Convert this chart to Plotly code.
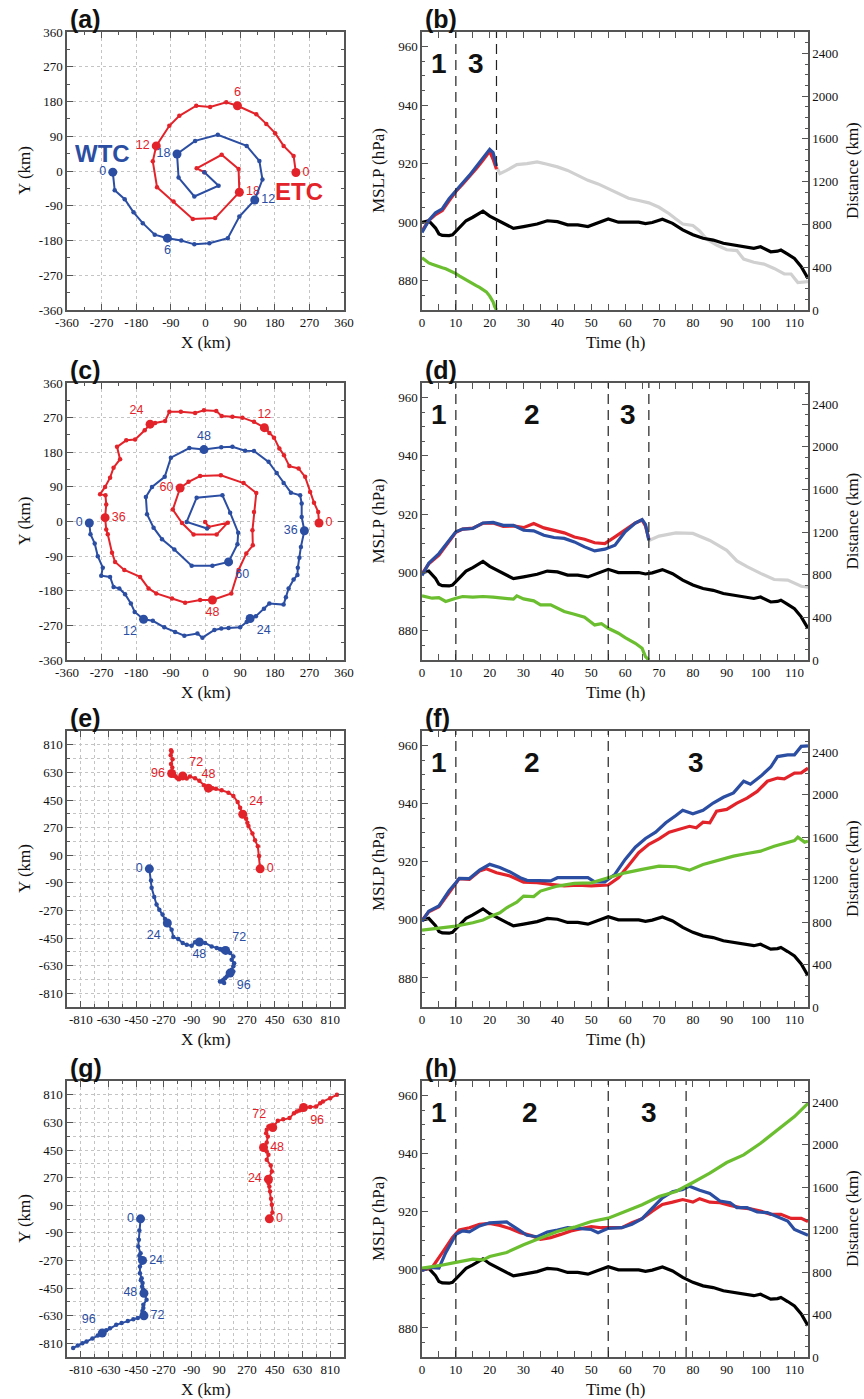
import plotly.graph_objects as go

W, H = 864, 1399
RED = "#E3232A"
BLUE = "#2B4EA2"
GREEN = "#6BBE2F"
GRAY = "#D0D0D0"
AXC = "#555555"
SERIF = "Liberation Serif, Times New Roman, serif"
SANS = "Liberation Sans, Arial, sans-serif"

# ---------------- control (single TC) MSLP, same in all panels ----------------
T_BLACK = [0, 2, 4, 5, 6, 8, 9, 10, 12, 13, 15, 18, 20, 23, 25, 27, 30, 34, 37, 40, 43, 46, 49, 52,
           55, 58, 61, 64, 66, 68, 71, 74, 77, 80, 83, 86, 89, 92, 95, 98, 100, 103, 105, 106, 108,
           110, 112, 114]
P_BLACK = [899.9, 900.5, 898.0, 896.0, 895.5, 895.4, 895.7, 897.0, 899.3, 900.5, 901.7, 903.8, 902.1,
           900.3, 899.3, 897.9, 898.5, 899.4, 900.5, 900.2, 899.1, 899.1, 898.5, 899.9, 901.1, 900.0,
           899.9, 900.0, 899.5, 899.9, 901.0, 899.6, 897.4, 895.7, 894.5, 893.9, 892.8, 892.2, 891.6,
           891.1, 891.6, 889.9, 890.1, 890.5, 889.1, 887.6, 884.8, 880.8]

# ---------------- (a) tracks ----------------
HRS_A = list(range(0, 23))
XA_WTC = [-241, -236, -210, -187, -163, -132, -99, -63, -29, 10, 58, 88, 128, 148, 140, 107, 32, -27,
          -74, -70, -29, 34, -3]
YA_WTC = [-3, -50, -73, -107, -135, -165, -174, -180, -190, -187, -174, -118, -75, -22, 26, 65, 94, 78,
          44, -17, -66, -38, -3]
XA_ETC = [235, 229, 203, 181, 158, 132, 83, 54, 12, -24, -68, -94, -128, -137, -126, -83, -33, 25, 88,
          86, 42, -23, -3]
YA_ETC = [-4, 39, 65, 98, 122, 147, 169, 178, 166, 169, 143, 117, 65, 25, -42, -79, -124, -122, -55, 5,
          42, 7, -3]
LBL_A = [0, 6, 12, 18]

# ---------------- (b) ----------------
T_B_BLUE = [0, 2, 4, 6, 8, 10, 12, 14, 16, 18, 19, 20, 21, 22]
P_B_BLUE = [896.5, 900.6, 903.2, 904.6, 908.0, 910.9, 913.4, 916.0, 918.9, 921.7, 923.4, 924.9, 923.8, 919.2]
T_B_RED = [0, 2, 4, 6, 8, 10, 12, 14, 16, 18, 19, 20, 21, 22]
P_B_RED = [897.0, 900.6, 902.6, 904.0, 907.3, 910.5, 913.0, 915.5, 918.3, 921.2, 922.6, 924.2, 921.5, 918.1]
T_B_GRAY = [22, 23, 25, 28, 31, 34, 37, 40, 43, 46, 49, 52, 55, 58, 61, 64, 67, 70, 73, 75, 77, 80, 82,
            84, 87, 90, 93, 95, 98, 101, 104, 107, 109, 111, 114]
P_B_GRAY = [918.9, 916.6, 917.7, 919.7, 920.0, 920.6, 919.8, 918.9, 917.7, 916.0, 914.3, 913.1, 911.4,
            909.7, 908.2, 907.4, 906.6, 905.1, 902.9, 901.1, 899.4, 898.9, 897.0, 894.3, 892.2, 890.6,
            890.3, 887.4, 886.3, 885.7, 884.2, 882.3, 882.3, 879.4, 879.7]
T_B_GREEN = [0, 1, 2, 3, 4, 5, 6, 7, 8, 9, 10, 11, 12, 13, 14, 15, 16, 17, 18, 19, 20, 21, 21.5, 22]
D_B_GREEN = [488, 462, 440, 428, 415, 405, 395, 385, 372, 358, 340, 320, 300, 282, 262, 245, 228, 212,
             192, 170, 130, 75, 30, 0]
VL_B = [10, 22]
PH_B = [(5, "1"), (16, "3")]

# ---------------- (c) tracks ----------------
HRS_C = list(range(0, 68))
XC_WTC = [-302, -299, -288, -280, -267, -271, -248, -239, -224, -209, -194, -184,
          -161, -137, -107, -79, -55, -21, -8, 23, 41, 60, 90, 107,
          116, 131, 152, 166, 203, 209, 216, 229, 239, 240, 244, 248,
          257, 250, 250, 246, 222, 203, 185, 164, 126, 103, 70, 41,
          -4, -42, -90, -106, -139, -155, -152, -135, -113, -81, -36, 18,
          60, 83, 85, 64, 44, -23, -49, 4]
YC_WTC = [-4, -33, -57, -90, -120, -141, -144, -170, -174, -189, -213, -235,
          -254, -258, -275, -287, -297, -291, -302, -282, -278, -277, -275, -261,
          -252, -246, -227, -213, -216, -197, -174, -151, -139, -120, -94, -66,
          -24, 12, 47, 68, 75, 100, 126, 155, 183, 184, 194, 193,
          187, 191, 166, 116, 90, 64, 19, -16, -46, -73, -115, -115,
          -105, -59, -29, 23, 68, 62, -1, -18]
XC_ETC = [295, 293, 282, 272, 259, 242, 218, 204, 192, 178, 166, 159,
          153, 126, 96, 70, 42, 28, -4, -27, -64, -94, -105, -131,
          -144, -158, -183, -206, -230, -222, -239, -248, -261, -274, -260, -258,
          -261, -258, -254, -243, -235, -211, -170, -148, -128, -87, -53, -14,
          18, 67, 86, 106, 123, 122, 126, 132, 99, 40, -14, -44,
          -66, -85, -61, -31, 29, 58, 8, -1]
YC_ETC = [-4, 25, 49, 77, 116, 138, 144, 172, 190, 218, 230, 239,
          244, 259, 270, 272, 274, 287, 289, 282, 285, 285, 261, 256,
          253, 237, 213, 211, 194, 162, 140, 114, 90, 71, 68, 44,
          10, -21, -33, -81, -105, -126, -144, -174, -187, -200, -211, -204,
          -204, -187, -126, -83, -62, -23, 25, 74, 100, 120, 118, 103,
          87, 31, -4, -34, -34, -3, -14, -1]
LBL_C = [0, 12, 24, 36, 48, 60]

# ---------------- (d) ----------------
T_D_BLUE = [0, 2, 5, 8, 10, 12, 15, 18, 21, 24, 27, 30, 33, 36, 39, 42, 45, 48, 51, 54, 57, 60, 63, 65, 66, 67]
P_D_BLUE = [899.0, 903.2, 906.5, 911.0, 914.0, 914.9, 915.1, 917.0, 917.2, 916.2, 916.2, 914.5, 914.3,
            912.8, 912.0, 911.7, 910.5, 908.8, 907.4, 908.0, 909.4, 914.0, 917.0, 918.2, 916.5, 911.0]
T_D_RED = [0, 2, 5, 8, 10, 12, 15, 18, 21, 24, 27, 30, 33, 36, 39, 42, 45, 48, 51, 54, 57, 60, 63, 65, 66, 67]
P_D_RED = [899.5, 903.0, 906.0, 910.5, 913.8, 914.9, 915.2, 916.9, 917.0, 915.8, 916.0, 915.4, 916.8,
           915.3, 914.5, 913.6, 912.2, 911.4, 910.2, 909.9, 912.2, 914.7, 917.0, 918.0, 916.0, 911.5]
T_D_GRAY = [67, 70, 75, 80, 85, 90, 93, 96, 100, 104, 108, 112, 114]
P_D_GRAY = [911.0, 912.5, 913.6, 913.4, 911.0, 907.6, 904.0, 902.0, 899.7, 897.6, 897.4, 895.3, 895.0]
T_D_GREEN = [0, 3, 5, 7, 10, 12, 15, 18, 21, 24, 27, 28, 30, 33, 35, 38, 40, 42, 45, 48, 51, 53, 55,
             58, 60, 63, 65, 66, 67]
D_D_GREEN = [602, 580, 585, 549, 580, 596, 590, 596, 590, 580, 571, 602, 574, 555, 518, 518, 486, 455,
             430, 402, 329, 340, 298, 251, 210, 157, 110, 31, 0]
VL_D = [10, 55, 67]
PH_D = [(5, "1"), (32.5, "2"), (60.8, "3")]

# ---------------- (e) tracks ----------------
HRS_E = list(range(0, 115, 3))
XE_WTC = [-365, -354, -350, -333, -318, -300, -279, -263, -248, -220, -209, -177, -148, -122, -90, -68,
          -40, -3, 40, 73, 94, 100, 112, 120, 131, 160, 181, 170, 186, 181, 170, 181, 160, 138, 127, 94,
          116, 121, 105]
YE_WTC = [1, -75, -123, -182, -232, -265, -297, -326, -352, -396, -444, -457, -483, -494, -500, -478,
          -476, -483, -505, -515, -522, -525, -531, -520, -531, -548, -570, -592, -614, -635, -657, -668,
          -679, -701, -712, -733, -723, -744, -733]
XE_ETC = [355, 348, 340, 322, 305, 279, 272, 264, 242, 225, 209, 181, 149, 105, 68, 45, 19, -10, -40,
          -68, -101, -122, -133, -140, -148, -172, -188, -180, -198, -209, -205, -215, -220, -216, -224,
          -214, -226, -220, -224]
YE_ETC = [1, 84, 149, 187, 232, 280, 302, 328, 357, 400, 437, 476, 498, 514, 524, 527, 527, 546, 575,
          592, 603, 590, 607, 600, 607, 585, 596, 590, 607, 618, 610, 630, 623, 662, 684, 716, 742, 764,
          775]
LBL_E = [0, 24, 48, 72, 96]

# ---------------- (f) ----------------
T_F_BLUE = [0, 2, 5, 8, 10, 11, 14, 17, 20, 23, 26, 29, 31, 35, 38, 40, 45, 49, 51, 54, 57, 60, 63, 66,
            69, 72, 75, 77, 80, 83, 86, 89, 92, 95, 97, 100, 103, 105, 108, 110, 112, 114]
P_F_BLUE = [899.5, 903.0, 904.8, 910.0, 912.8, 914.3, 914.2, 917.1, 919.1, 918.0, 916.5, 914.5, 913.6,
            913.4, 913.4, 914.5, 914.5, 914.5, 913.1, 913.1, 915.7, 920.8, 925.0, 928.0, 930.2, 933.4,
            935.9, 937.7, 936.5, 937.7, 940.2, 942.2, 943.7, 947.7, 946.7, 949.4, 952.6, 956.2, 956.8,
            956.8, 959.7, 959.9]
T_F_RED = [0, 2, 5, 8, 10, 11, 14, 17, 19, 22, 26, 30, 34, 38, 42, 46, 50, 55, 58, 61, 64, 67, 70, 73,
           76, 79, 81, 83, 85, 87, 90, 93, 96, 99, 102, 105, 107, 110, 112, 114]
P_F_RED = [899.8, 902.8, 904.5, 909.6, 912.6, 914.2, 913.9, 916.8, 917.6, 916.2, 915.1, 913.0, 912.8,
           912.2, 911.7, 911.9, 911.7, 912.0, 914.5, 918.7, 923.1, 926.0, 927.9, 930.2, 931.1, 932.2,
           931.7, 933.6, 933.4, 937.4, 938.0, 940.2, 941.9, 944.2, 947.7, 948.8, 948.5, 950.5, 950.6,
           952.2]
T_F_GREEN = [0, 5, 10, 15, 18, 20, 23, 25, 28, 30, 33, 35, 40, 45, 50, 55, 60, 65, 70, 75, 79, 83, 88,
             92, 96, 100, 104, 108, 110, 111, 113, 114]
D_F_GREEN = [725, 747, 762, 794, 819, 850, 888, 935, 988, 1045, 1040, 1092, 1139, 1164, 1170, 1217,
             1264, 1296, 1327, 1321, 1289, 1343, 1390, 1421, 1446, 1468, 1515, 1547, 1568, 1600, 1553,
             1562]
VL_F = [10, 55]
PH_F = [(5, "1"), (32.5, "2"), (81, "3")]

# ---------------- (g) tracks ----------------
HRS_G = list(range(0, 115, 3))
XG_WTC = [-422, -430, -433, -437, -422, -430, -418, -425, -409, -426, -426, -415, -420, -409, -412,
          -405, -400, -383, -404, -404, -410, -398, -410, -405, -400, -440, -469, -505, -545, -580,
          -621, -645, -671, -700, -735, -773, -800, -830, -860]
YG_WTC = [1, -75, -136, -179, -223, -240, -255, -262, -270, -310, -353, -386, -400, -418, -440, -460,
          -484, -527, -560, -581, -600, -612, -620, -628, -631, -645, -653, -665, -679, -690, -712,
          -725, -744, -760, -780, -799, -810, -825, -842]
XG_ETC = [415, 435, 431, 426, 420, 415, 409, 420, 409, 431, 424, 398, 409, 398, 387, 381, 377, 398,
          405, 394, 398, 409, 420, 430, 437, 470, 505, 546, 575, 593, 610, 626, 637, 680, 719, 745, 763,
          810, 854]
YG_ETC = [1, 43, 93, 132, 180, 212, 234, 245, 260, 310, 349, 386, 419, 440, 451, 462, 466, 499, 538,
          560, 582, 603, 608, 600, 597, 640, 650, 658, 690, 701, 707, 712, 727, 730, 734, 755, 766, 788,
          810]
LBL_G = [0, 24, 48, 72, 96]

# ---------------- (h) ----------------
T_H_BLUE = [0, 2, 5, 7, 10, 12, 14, 17, 20, 25, 28, 31, 34, 37, 40, 43, 47, 50, 52, 55, 59, 62, 65, 68,
            71, 74, 77, 79, 82, 85, 88, 91, 93, 96, 99, 102, 105, 108, 110, 112, 114]
P_H_BLUE = [899.8, 900.8, 900.6, 905.9, 912.2, 913.4, 913.1, 915.1, 916.2, 916.5, 914.2, 911.9, 911.4,
            913.0, 913.7, 914.5, 914.2, 913.9, 912.8, 914.3, 914.5, 915.7, 917.6, 921.4, 924.8, 926.9,
            927.7, 928.8, 927.4, 926.3, 923.7, 923.1, 921.4, 921.4, 919.9, 919.7, 918.3, 916.8, 913.9,
            913.0, 911.9]
T_H_RED = [0, 3, 6, 9, 11, 14, 17, 20, 23, 26, 29, 32, 35, 38, 41, 44, 47, 50, 53, 56, 59, 62, 65, 68,
           71, 74, 77, 80, 82, 85, 88, 91, 94, 97, 100, 103, 106, 109, 112, 114]
P_H_RED = [900.0, 900.8, 905.9, 911.1, 913.7, 914.5, 915.7, 916.0, 915.3, 914.2, 912.8, 911.9, 910.5,
           911.1, 912.2, 913.4, 914.2, 914.9, 914.5, 914.5, 914.5, 916.2, 917.6, 920.2, 922.5, 923.3,
           924.2, 923.3, 924.5, 923.3, 923.1, 922.2, 921.4, 921.0, 920.2, 919.1, 919.1, 917.7, 917.7,
           916.6]
T_H_GREEN = [0, 5, 10, 15, 18, 20, 25, 30, 35, 40, 45, 50, 55, 60, 65, 70, 75, 80, 85, 90, 95, 100,
             105, 110, 114]
D_H_GREEN = [838, 860, 891, 922, 915, 947, 985, 1057, 1120, 1183, 1223, 1277, 1308, 1371, 1434, 1512,
             1559, 1644, 1732, 1832, 1904, 2014, 2139, 2265, 2390]
VL_H = [10, 55, 78]
PH_H = [(5, "1"), (32, "2"), (67, "3")]

# ---------------- layout helpers ----------------
LEFT = (67, 344)
RIGHT = (422, 808)
ROWS = [(32, 310), (383, 660), (731, 1007), (1081, 1357)]
PANEL_LETTERS = [("(a)", "(b)"), ("(c)", "(d)"), ("(e)", "(f)"), ("(g)", "(h)")]

tick_font = dict(family=SERIF, size=13, color="#111111")
title_font = dict(family=SERIF, size=17, color="#111111")


def ax_id(n, kind):
    return kind + ("" if n == 1 else str(n))


def lay_key(n, kind):
    return kind + "axis" + ("" if n == 1 else str(n))


fig = go.Figure()
layout = {}
annotations = []
shapes = []


def paper_text(xpx, ypx, text, font, angle=0, xanchor="center", yanchor="middle"):
    annotations.append(dict(x=xpx / W, y=1 - ypx / H, xref="paper", yref="paper", text=text,
                            textangle=angle, showarrow=False, font=font,
                            xanchor=xanchor, yanchor=yanchor))


def track_axes(n, row, big):
    top, bot = ROWS[row]
    if big:
        rng = [-900, 900]
        tv = list(range(-810, 811, 180))
        minor = dict(dtick=90, tick0=-810, ticks="inside", ticklen=3, tickcolor=AXC,
                     showgrid=True, gridcolor="#C4C4C4", griddash="dot", gridwidth=1)
    else:
        rng = [-360, 360]
        tv = list(range(-360, 361, 90))
        minor = dict(dtick=45, tick0=-360, ticks="inside", ticklen=3, tickcolor=AXC, showgrid=False)
    common = dict(range=rng, tickmode="array", tickvals=tv, ticktext=[str(v) for v in tv],
                  ticks="inside", ticklen=6, tickcolor=AXC, showline=True, linecolor=AXC,
                  linewidth=1.5, mirror="allticks", showgrid=True, gridcolor="#C4C4C4",
                  griddash="dot", gridwidth=1, zeroline=False, tickfont=tick_font, minor=minor,
                  automargin=False)
    layout[lay_key(n, "x")] = dict(domain=[LEFT[0] / W, LEFT[1] / W], anchor=ax_id(n, "y"), **common)
    layout[lay_key(n, "y")] = dict(domain=[1 - bot / H, 1 - top / H], anchor=ax_id(n, "x"), **common)


def time_axes(n, row):
    top, bot = ROWS[row]
    layout[lay_key(n, "x")] = dict(
        domain=[RIGHT[0] / W, RIGHT[1] / W], anchor=ax_id(n, "y"), range=[0, 114],
        tickmode="array", tickvals=list(range(0, 111, 10)), ticks="inside", ticklen=6, tickcolor=AXC,
        minor=dict(dtick=5, tick0=0, ticks="inside", ticklen=3, tickcolor=AXC),
        showline=True, linecolor=AXC, linewidth=1.5, mirror="allticks", showgrid=False,
        zeroline=False, tickfont=tick_font, automargin=False)
    layout[lay_key(n, "y")] = dict(
        domain=[1 - bot / H, 1 - top / H], anchor=ax_id(n, "x"), range=[870, 965],
        tickmode="array", tickvals=[880, 900, 920, 940, 960], ticks="inside", ticklen=6,
        tickcolor=AXC, minor=dict(dtick=5, tick0=870, ticks="inside", ticklen=3, tickcolor=AXC),
        showline=True, linecolor=AXC, linewidth=1.5, mirror=False, showgrid=False,
        zeroline=False, tickfont=tick_font, automargin=False)
    layout[lay_key(n + 1, "y")] = dict(
        overlaying=ax_id(n, "y"), anchor=ax_id(n, "x"), side="right", range=[0, 2600],
        tickmode="array", tickvals=[0, 400, 800, 1200, 1600, 2000, 2400], ticks="inside",
        ticklen=6, tickcolor=AXC,
        minor=dict(dtick=100, tick0=0, ticks="inside", ticklen=3, tickcolor=AXC),
        showline=True, linecolor=AXC, linewidth=1.5, showgrid=False, zeroline=False,
        tickfont=tick_font, automargin=False)


def add_line(xs, ys, color, xa, ya, width=3.2):
    fig.add_trace(go.Scatter(x=xs, y=ys, mode="lines", line=dict(color=color, width=width),
                             xaxis=xa, yaxis=ya, hoverinfo="skip"))


def add_track(hours, xs, ys, color, labels, positions, xa, ya):
    fig.add_trace(go.Scatter(x=xs, y=ys, mode="lines+markers", line=dict(color=color, width=2),
                             marker=dict(size=4.5, color=color), xaxis=xa, yaxis=ya,
                             hoverinfo="skip"))
    idx = [hours.index(h) for h in labels]
    fig.add_trace(go.Scatter(x=[xs[i] for i in idx], y=[ys[i] for i in idx], mode="markers+text",
                             marker=dict(size=9, color=color), text=[str(h) for h in labels],
                             textposition=positions,
                             textfont=dict(family=SANS, size=12.5, color=color),
                             xaxis=xa, yaxis=ya, hoverinfo="skip"))


def decorate_time(n, vlines, phases):
    xa = ax_id(n, "x")
    ya = ax_id(n, "y")
    for v in vlines:
        shapes.append(dict(type="line", xref=xa, yref=ya + " domain", x0=v, x1=v, y0=0, y1=1,
                           line=dict(color="#222222", width=1.2, dash="10px,6px")))
    for xv, txt in phases:
        annotations.append(dict(x=xv, y=0.885, xref=xa, yref=ya + " domain", text="<b>" + txt + "</b>",
                                showarrow=False, xanchor="center", yanchor="middle",
                                font=dict(family=SANS, size=28, color="#111111")))


# build axes and panel texts
for r in range(4):
    n = 3 * r + 1
    track_axes(n, r, big=(r >= 2))
    time_axes(n + 1, r)
    top, bot = ROWS[r]
    la, lb = PANEL_LETTERS[r]
    lab_font = dict(family=SANS, size=25, color="#111111")
    paper_text(LEFT[0] + 1, top - 13, "<b>" + la + "</b>", lab_font, xanchor="left")
    paper_text(RIGHT[0] + 1, top - 13, "<b>" + lb + "</b>", lab_font, xanchor="left")
    mid = (top + bot) / 2
    paper_text(24, mid, "Y (km)", title_font, angle=-90)
    paper_text((LEFT[0] + LEFT[1]) / 2, bot + 32, "X (km)", title_font)
    paper_text(378, mid, "MSLP (hPa)", title_font, angle=-90)
    paper_text((RIGHT[0] + RIGHT[1]) / 2, bot + 32, "Time (h)", title_font)
    paper_text(852, mid, "Distance (km)", title_font, angle=-90)

# ---- row 1 ----
add_track(HRS_A, XA_ETC, YA_ETC, RED, LBL_A, ["middle right", "top center", "middle left", "middle right"], "x", "y")
add_track(HRS_A, XA_WTC, YA_WTC, BLUE, LBL_A, ["middle left", "bottom center", "middle right", "middle left"], "x", "y")
annotations.append(dict(x=-268, y=45, xref="x", yref="y", text="<b>WTC</b>", showarrow=False,
                        xanchor="center", yanchor="middle", font=dict(family=SANS, size=24, color=BLUE)))
annotations.append(dict(x=243, y=-53, xref="x", yref="y", text="<b>ETC</b>", showarrow=False,
                        xanchor="center", yanchor="middle", font=dict(family=SANS, size=24, color=RED)))
add_line(T_B_GRAY, P_B_GRAY, GRAY, "x2", "y2")
add_line(T_BLACK, P_BLACK, "#000000", "x2", "y2")
add_line(T_B_RED, P_B_RED, RED, "x2", "y2")
add_line(T_B_BLUE, P_B_BLUE, BLUE, "x2", "y2")
add_line(T_B_GREEN, D_B_GREEN, GREEN, "x2", "y3")
decorate_time(2, VL_B, PH_B)

# ---- row 2 ----
add_track(HRS_C, XC_ETC, YC_ETC, RED, LBL_C,
          ["middle right", "top center", "top left", "middle right", "bottom center", "middle left"], "x4", "y4")
add_track(HRS_C, XC_WTC, YC_WTC, BLUE, LBL_C,
          ["middle left", "bottom left", "bottom right", "middle left", "top center", "bottom right"], "x4", "y4")
add_line(T_D_GRAY, P_D_GRAY, GRAY, "x5", "y5")
add_line(T_BLACK, P_BLACK, "#000000", "x5", "y5")
add_line(T_D_RED, P_D_RED, RED, "x5", "y5")
add_line(T_D_BLUE, P_D_BLUE, BLUE, "x5", "y5")
add_line(T_D_GREEN, D_D_GREEN, GREEN, "x5", "y6")
decorate_time(5, VL_D, PH_D)

# ---- row 3 ----
add_track(HRS_E, XE_ETC, YE_ETC, RED, LBL_E,
          ["middle right", "top right", "top center", "top right", "middle left"], "x7", "y7")
add_track(HRS_E, XE_WTC, YE_WTC, BLUE, LBL_E,
          ["middle left", "bottom left", "bottom center", "top right", "bottom right"], "x7", "y7")
add_line(T_BLACK, P_BLACK, "#000000", "x8", "y8")
add_line(T_F_RED, P_F_RED, RED, "x8", "y8")
add_line(T_F_BLUE, P_F_BLUE, BLUE, "x8", "y8")
add_line(T_F_GREEN, D_F_GREEN, GREEN, "x8", "y9")
decorate_time(8, VL_F, PH_F)

# ---- row 4 ----
add_track(HRS_G, XG_ETC, YG_ETC, RED, LBL_G,
          ["middle right", "middle left", "middle right", "top left", "bottom right"], "x10", "y10")
add_track(HRS_G, XG_WTC, YG_WTC, BLUE, LBL_G,
          ["middle left", "middle right", "middle left", "middle right", "top left"], "x10", "y10")
add_line(T_BLACK, P_BLACK, "#000000", "x11", "y11")
add_line(T_H_RED, P_H_RED, RED, "x11", "y11")
add_line(T_H_BLUE, P_H_BLUE, BLUE, "x11", "y11")
add_line(T_H_GREEN, D_H_GREEN, GREEN, "x11", "y12")
decorate_time(11, VL_H, PH_H)

fig.update_layout(
    width=W, height=H, margin=dict(l=0, r=0, t=0, b=0, pad=0, autoexpand=False),
    paper_bgcolor="white", plot_bgcolor="white", showlegend=False,
    annotations=annotations, shapes=shapes, **layout)

fig.write_html("out.html")
